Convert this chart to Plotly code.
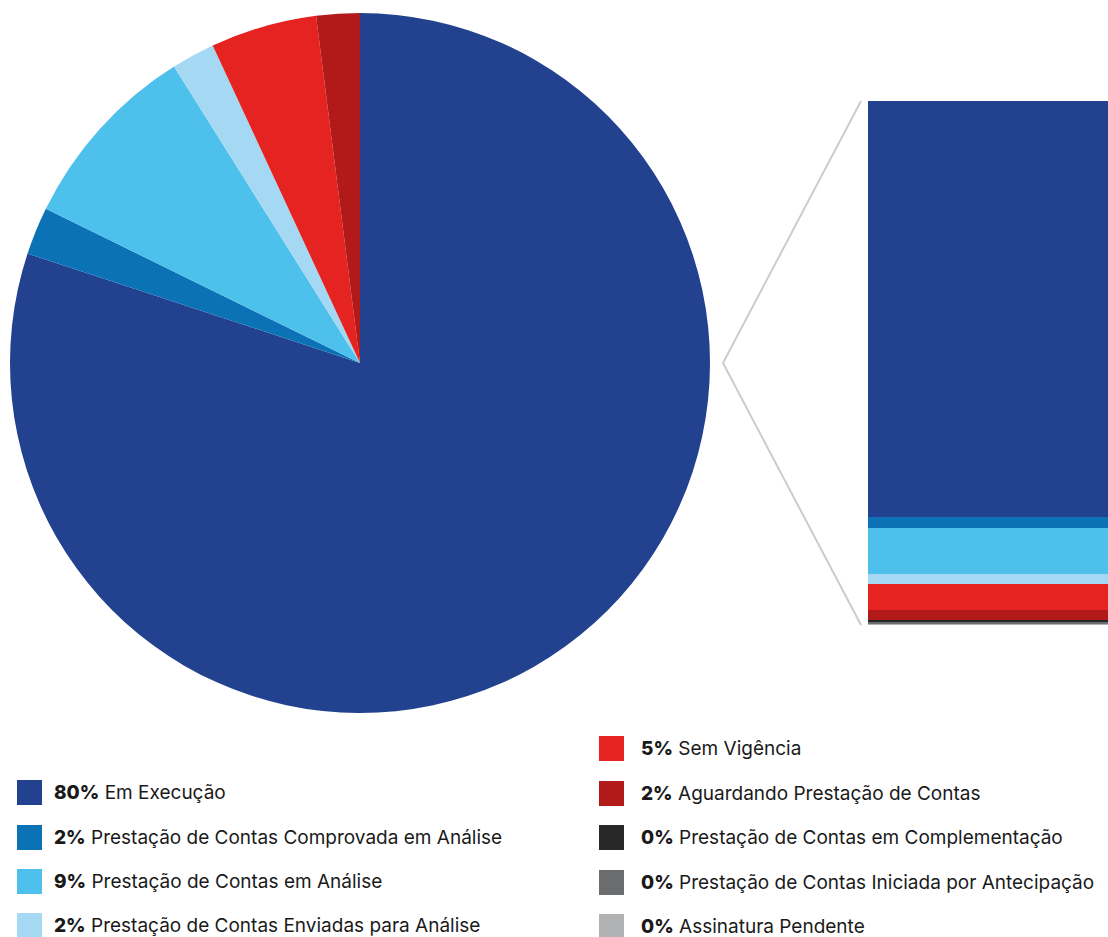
import plotly.graph_objects as go

# status of agreements (percent)
categories = [
    "Em Execução",
    "Prestação de Contas Comprovada em Análise",
    "Prestação de Contas em Análise",
    "Prestação de Contas Enviadas para Análise",
    "Sem Vigência",
    "Aguardando Prestação de Contas",
    "Prestação de Contas em Complementação",
    "Prestação de Contas Iniciada por Antecipação",
    "Assinatura Pendente",
]
values = [79.9, 2.2, 8.8, 2.0, 4.9, 2.0, 0.3, 0.3, 0.3]
pct_labels = ["80%", "2%", "9%", "2%", "5%", "2%", "0%", "0%", "0%"]
colors = ["#22418e", "#0b72b6", "#4dc0eb", "#a5d8f2", "#e52421",
          "#b21a1a", "#282828", "#6b6d6e", "#b1b2b4"]

W, H = 1108, 937
FONT = "Inter"


def px(x):
    return x / W


def py(y):
    return 1 - y / H


fig = go.Figure()

# pie only shows slices that are not 0%
fig.add_trace(go.Pie(
    labels=categories[:6], values=values[:6], sort=False, direction="clockwise",
    rotation=0, marker=dict(colors=colors[:6], line=dict(width=0)),
    textinfo="none", hoverinfo="label+percent", showlegend=False,
    domain=dict(x=[px(10), px(710)], y=[py(713), py(13)]),
))

# stacked bar, first category on top
for cat, val, col in reversed(list(zip(categories, values, colors))):
    fig.add_trace(go.Bar(
        x=[0], y=[val], name=cat, marker=dict(color=col, line=dict(width=0)),
        width=1, showlegend=False, xaxis="x", yaxis="y",
    ))

shapes = []
annotations = []

# connector lines
for y_end in (101, 625):
    shapes.append(dict(type="line", xref="paper", yref="paper",
                       x0=px(723), y0=py(363), x1=px(861), y1=py(y_end),
                       line=dict(color="#cccccc", width=2)))

# legend, two columns
left_rows = [792, 837, 881, 925]
right_rows = [748, 793, 837, 882, 926]
positions = [(17, 52, y) for y in left_rows] + [(599, 639, y) for y in right_rows]
for (sq_x, tx, y), cat, pct, col in zip(positions, categories, pct_labels, colors):
    shapes.append(dict(type="rect", xref="paper", yref="paper",
                       x0=px(sq_x), x1=px(sq_x + 25), y0=py(y + 13), y1=py(y - 12),
                       fillcolor=col, line=dict(width=0)))
    annotations.append(dict(
        xref="paper", yref="paper", x=px(tx), y=py(y), xanchor="left", yanchor="middle",
        text=f"<span style='font-weight:800'>{pct}</span> {cat}", showarrow=False,
        font=dict(family=FONT, size=19, color="#1a1a1a"),
    ))

fig.update_layout(
    width=W, height=H, margin=dict(l=0, r=0, t=0, b=0),
    paper_bgcolor="white", plot_bgcolor="white",
    barmode="stack", bargap=0,
    xaxis=dict(domain=[px(868), 1], range=[-0.5, 0.5], visible=False, fixedrange=True),
    yaxis=dict(domain=[py(625), py(101)], range=[0, sum(values)], visible=False, fixedrange=True),
    shapes=shapes, annotations=annotations,
    font=dict(family=FONT),
)

# page has a default 8px body margin; drop it so the figure fills the window
fig.write_html("out.html", config={"displayModeBar": False},
               post_script="document.body.style.margin='0';")
